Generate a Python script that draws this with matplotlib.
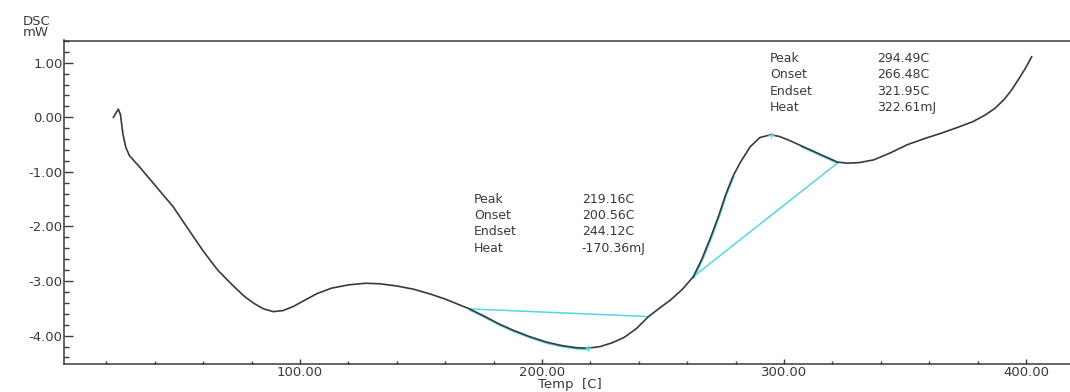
import numpy as np
import matplotlib.pyplot as plt
import matplotlib.transforms as mtransforms
from matplotlib.ticker import MultipleLocator, FormatStrFormatter

# DSC curve: temperature (C) vs heat flow (mW)
temp = [22.9, 24.9, 25.8, 26.8, 28.0, 29.5, 31.5, 33.9, 40.0, 47.6,
        54.0, 60.0, 66.0, 72.0, 77.0, 81.0, 85.0, 89.0, 93.0, 97.0,
        102.0, 107.0, 113.0, 120.0, 127.0, 133.0, 140.0, 147.0, 154.0, 160.0,
        165.0, 170.0, 176.0, 182.0, 188.0, 195.0, 202.0, 208.0, 214.0, 219.0,
        224.0, 229.0, 234.0, 239.0, 244.0, 249.0, 253.0, 258.0, 262.5, 266.0,
        270.0, 273.0, 276.0, 279.0, 282.0, 286.0, 290.0, 294.5, 298.0, 302.0,
        307.0, 313.0, 318.0, 322.0, 326.0, 331.0, 337.0, 344.0, 351.0, 358.0,
        365.0, 372.0, 378.0, 383.0, 387.0, 391.0, 394.0, 397.5, 400.0, 402.3]
dsc = [0.00, 0.15, 0.05, -0.30, -0.55, -0.70, -0.80, -0.92, -1.24, -1.64,
       -2.06, -2.45, -2.80, -3.07, -3.28, -3.41, -3.51, -3.56, -3.54, -3.47,
       -3.35, -3.23, -3.13, -3.07, -3.04, -3.05, -3.09, -3.15, -3.24, -3.33,
       -3.42, -3.51, -3.64, -3.78, -3.90, -4.02, -4.12, -4.18, -4.22, -4.23,
       -4.20, -4.13, -4.03, -3.87, -3.65, -3.48, -3.35, -3.15, -2.92, -2.60,
       -2.16, -1.80, -1.40, -1.07, -0.82, -0.54, -0.37, -0.32, -0.35, -0.42,
       -0.52, -0.64, -0.74, -0.82, -0.84, -0.83, -0.78, -0.65, -0.50, -0.39,
       -0.29, -0.18, -0.08, 0.04, 0.16, 0.33, 0.50, 0.74, 0.92, 1.11]

# integration baselines
base1_t = [170.2, 243.8]
base1_v = [-3.51, -3.65]
base2_t = [262.5, 322.0]
base2_v = [-2.92, -0.84]

# analysis results
labels = ["Peak", "Onset", "Endset", "Heat"]
res1 = ["219.16C", "200.56C", "244.12C", "-170.36mJ"]
res2 = ["294.49C", "266.48C", "321.95C", "322.61mJ"]
peak1 = (219.16, -4.23)
peak2 = (294.49, -0.32)

ink = "#3a3a3a"
cyan = "#55d6e0"
plt.rcParams['font.family'] = ['DejaVu Sans']

fig = plt.figure(figsize=(10.7, 3.92), dpi=100)
ax = fig.add_axes([64 / 1070, 28.5 / 392, 1011 / 1070, 323 / 392])

t = np.array(temp)
v = np.array(dsc)

# cyan tangents drawn just under the curve
shift = mtransforms.offset_copy(ax.transData, fig=fig, x=0.5, y=-1.2, units='dots')
for lo, hi in [(170, 222), (262, 279), (305, 322)]:
    m = (t >= lo) & (t <= hi)
    ax.plot(t[m], v[m], color=cyan, lw=1.2, transform=shift, zorder=2)
ax.plot(base1_t, base1_v, color=cyan, lw=1.1, zorder=2)
ax.plot(base2_t, base2_v, color=cyan, lw=1.1, zorder=2)
ax.plot(*peak1, marker='+', color=cyan, ms=5, mew=1, zorder=4)
ax.plot(*peak2, marker='+', color=cyan, ms=5, mew=1, zorder=4)

ax.plot(t, v, color=ink, lw=1.2, zorder=3)

# result tables
for (x0, x1, y0), vals in [((171.9, 216.4, -1.50), res1), ((294.2, 338.3, 1.08), res2)]:
    for i, (lab, val) in enumerate(zip(labels, vals)):
        y = y0 - i * 0.30
        ax.text(x0, y, lab, fontsize=9, color=ink, va='center', ha='left')
        ax.text(x1, y, val, fontsize=9, color=ink, va='center', ha='left')

ax.set_xlim(2.48, 420.2)
ax.set_ylim(-4.51, 1.407)

ax.xaxis.set_major_locator(MultipleLocator(100))
ax.xaxis.set_minor_locator(MultipleLocator(20))
ax.yaxis.set_major_locator(MultipleLocator(1))
ax.yaxis.set_minor_locator(MultipleLocator(0.2))
ax.xaxis.set_major_formatter(FormatStrFormatter('%.2f'))
ax.yaxis.set_major_formatter(FormatStrFormatter('%.2f'))

ax.tick_params(axis='x', which='major', direction='in', length=3.5, width=1, pad=2,
               labelsize=9.5, colors=ink)
ax.tick_params(axis='x', which='minor', direction='in', length=2, width=1)
ax.tick_params(axis='y', which='major', direction='in', length=6.5, width=1, pad=1,
               labelsize=9.5, colors=ink)
ax.tick_params(axis='y', which='minor', direction='in', length=3.5, width=1)
ax.tick_params(colors=ink, which='both')

for side in ['left', 'bottom', 'top']:
    ax.spines[side].set_color(ink)
    ax.spines[side].set_linewidth(1.1)
ax.spines['right'].set_visible(False)

ax.set_xlabel("Temp  [C]", fontsize=9.5, color=ink, labelpad=-1)
fig.text(23 / 1070, 1 - 21.5 / 392, "DSC", fontsize=9.5, color=ink, va='center', ha='left')
fig.text(23 / 1070, 1 - 33 / 392, "mW", fontsize=9.5, color=ink, va='center', ha='left')

fig.savefig("out.png", dpi=100)
